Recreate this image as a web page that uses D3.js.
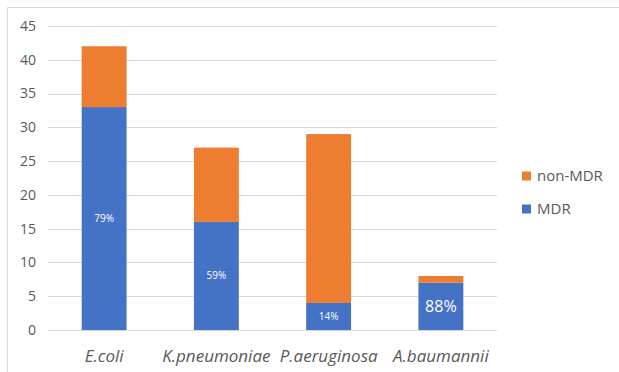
<!DOCTYPE html>
<html>
<head>
<meta charset="utf-8">
<script src="https://cdn.jsdelivr.net/npm/d3@7"></script>
<style>
  body { margin: 0; background: #fff; }
  text { font-family: "Open Sans", "Noto Sans", sans-serif; }
</style>
</head>
<body>
<div id="chart"></div>
<script>
const categories = ["E.coli", "K.pneumoniae", "P.aeruginosa", "A.baumannii"];
const mdr = [33, 16, 4, 7];
const nonMdr = [9, 11, 25, 1];
const pctLabels = ["79%", "59%", "14%", "88%"];
const yTicks = [0, 5, 10, 15, 20, 25, 30, 35, 40, 45];
const seriesNames = ["non-MDR", "MDR"];
const colors = { "MDR": "#4472C4", "non-MDR": "#ED7D31" };

const W = 619, H = 372;
const svg = d3.select("#chart").append("svg")
    .attr("width", W)
    .attr("height", H);

// frame (only top and left visible)
svg.append("line").attr("x1", 7.5).attr("x2", W).attr("y1", 7.5).attr("y2", 7.5)
    .attr("stroke", "#d9d9d9");
svg.append("line").attr("x1", 7.5).attr("x2", 7.5).attr("y1", 7.5).attr("y2", H)
    .attr("stroke", "#d9d9d9");

const plotLeft = 48, plotRight = 497, plotTop = 26, plotBottom = 330;

const x = d3.scaleBand().domain(categories).range([plotLeft, plotRight]).paddingInner(0.6).paddingOuter(0.3);
const y = d3.scaleLinear().domain([0, 45]).range([plotBottom, plotTop]);

// gridlines
svg.append("g").selectAll("line").data(yTicks).join("line")
    .attr("x1", plotLeft).attr("x2", plotRight)
    .attr("y1", d => Math.round(y(d)) + 0.5).attr("y2", d => Math.round(y(d)) + 0.5)
    .attr("stroke", "#d9d9d9").attr("stroke-width", 1);

// y labels
svg.append("g").selectAll("text").data(yTicks).join("text")
    .attr("x", 36).attr("y", d => y(d))
    .attr("dy", "0.35em")
    .attr("text-anchor", "end")
    .attr("font-size", 14)
    .attr("fill", "#595959")
    .text(d => d);

const rows = categories.map((c, i) => ({ cat: c, "MDR": mdr[i], "non-MDR": nonMdr[i], pct: pctLabels[i] }));
const stacked = d3.stack().keys(["MDR", "non-MDR"])(rows);

svg.append("g").selectAll("g").data(stacked).join("g")
    .attr("fill", s => colors[s.key])
    .selectAll("rect").data(s => s).join("rect")
    .attr("x", d => x(d.data.cat))
    .attr("width", x.bandwidth())
    .attr("y", d => y(d[1]))
    .attr("height", d => y(d[0]) - y(d[1]));

// percentage labels inside MDR bars
svg.append("g").selectAll("text").data(rows).join("text")
    .attr("x", d => x(d.cat) + x.bandwidth() / 2)
    .attr("y", d => y(d["MDR"] / 2))
    .attr("dy", "0.35em")
    .attr("text-anchor", "middle")
    .attr("fill", "#fff")
    .attr("font-size", (d, i) => i === 3 ? 16 : 10)
    .text(d => d.pct);

// x labels
svg.append("g").selectAll("text").data(categories).join("text")
    .attr("x", d => x(d) + x.bandwidth() / 2)
    .attr("y", 356)
    .attr("dy", "0.35em")
    .attr("text-anchor", "middle")
    .attr("font-size", 17)
    .attr("font-style", "italic")
    .attr("fill", "#595959")
    .text(d => d);

// legend
const legend = svg.append("g").selectAll("g").data(seriesNames).join("g")
    .attr("transform", (d, i) => `translate(522, ${176 + i * 33})`);
legend.append("rect")
    .attr("x", 0).attr("y", -4.5)
    .attr("width", 9).attr("height", 9)
    .attr("fill", d => colors[d]);
legend.append("text")
    .attr("x", 15).attr("y", 0)
    .attr("dy", "0.35em")
    .attr("font-size", 15)
    .attr("fill", "#595959")
    .text(d => d);
</script>
</body>
</html>
